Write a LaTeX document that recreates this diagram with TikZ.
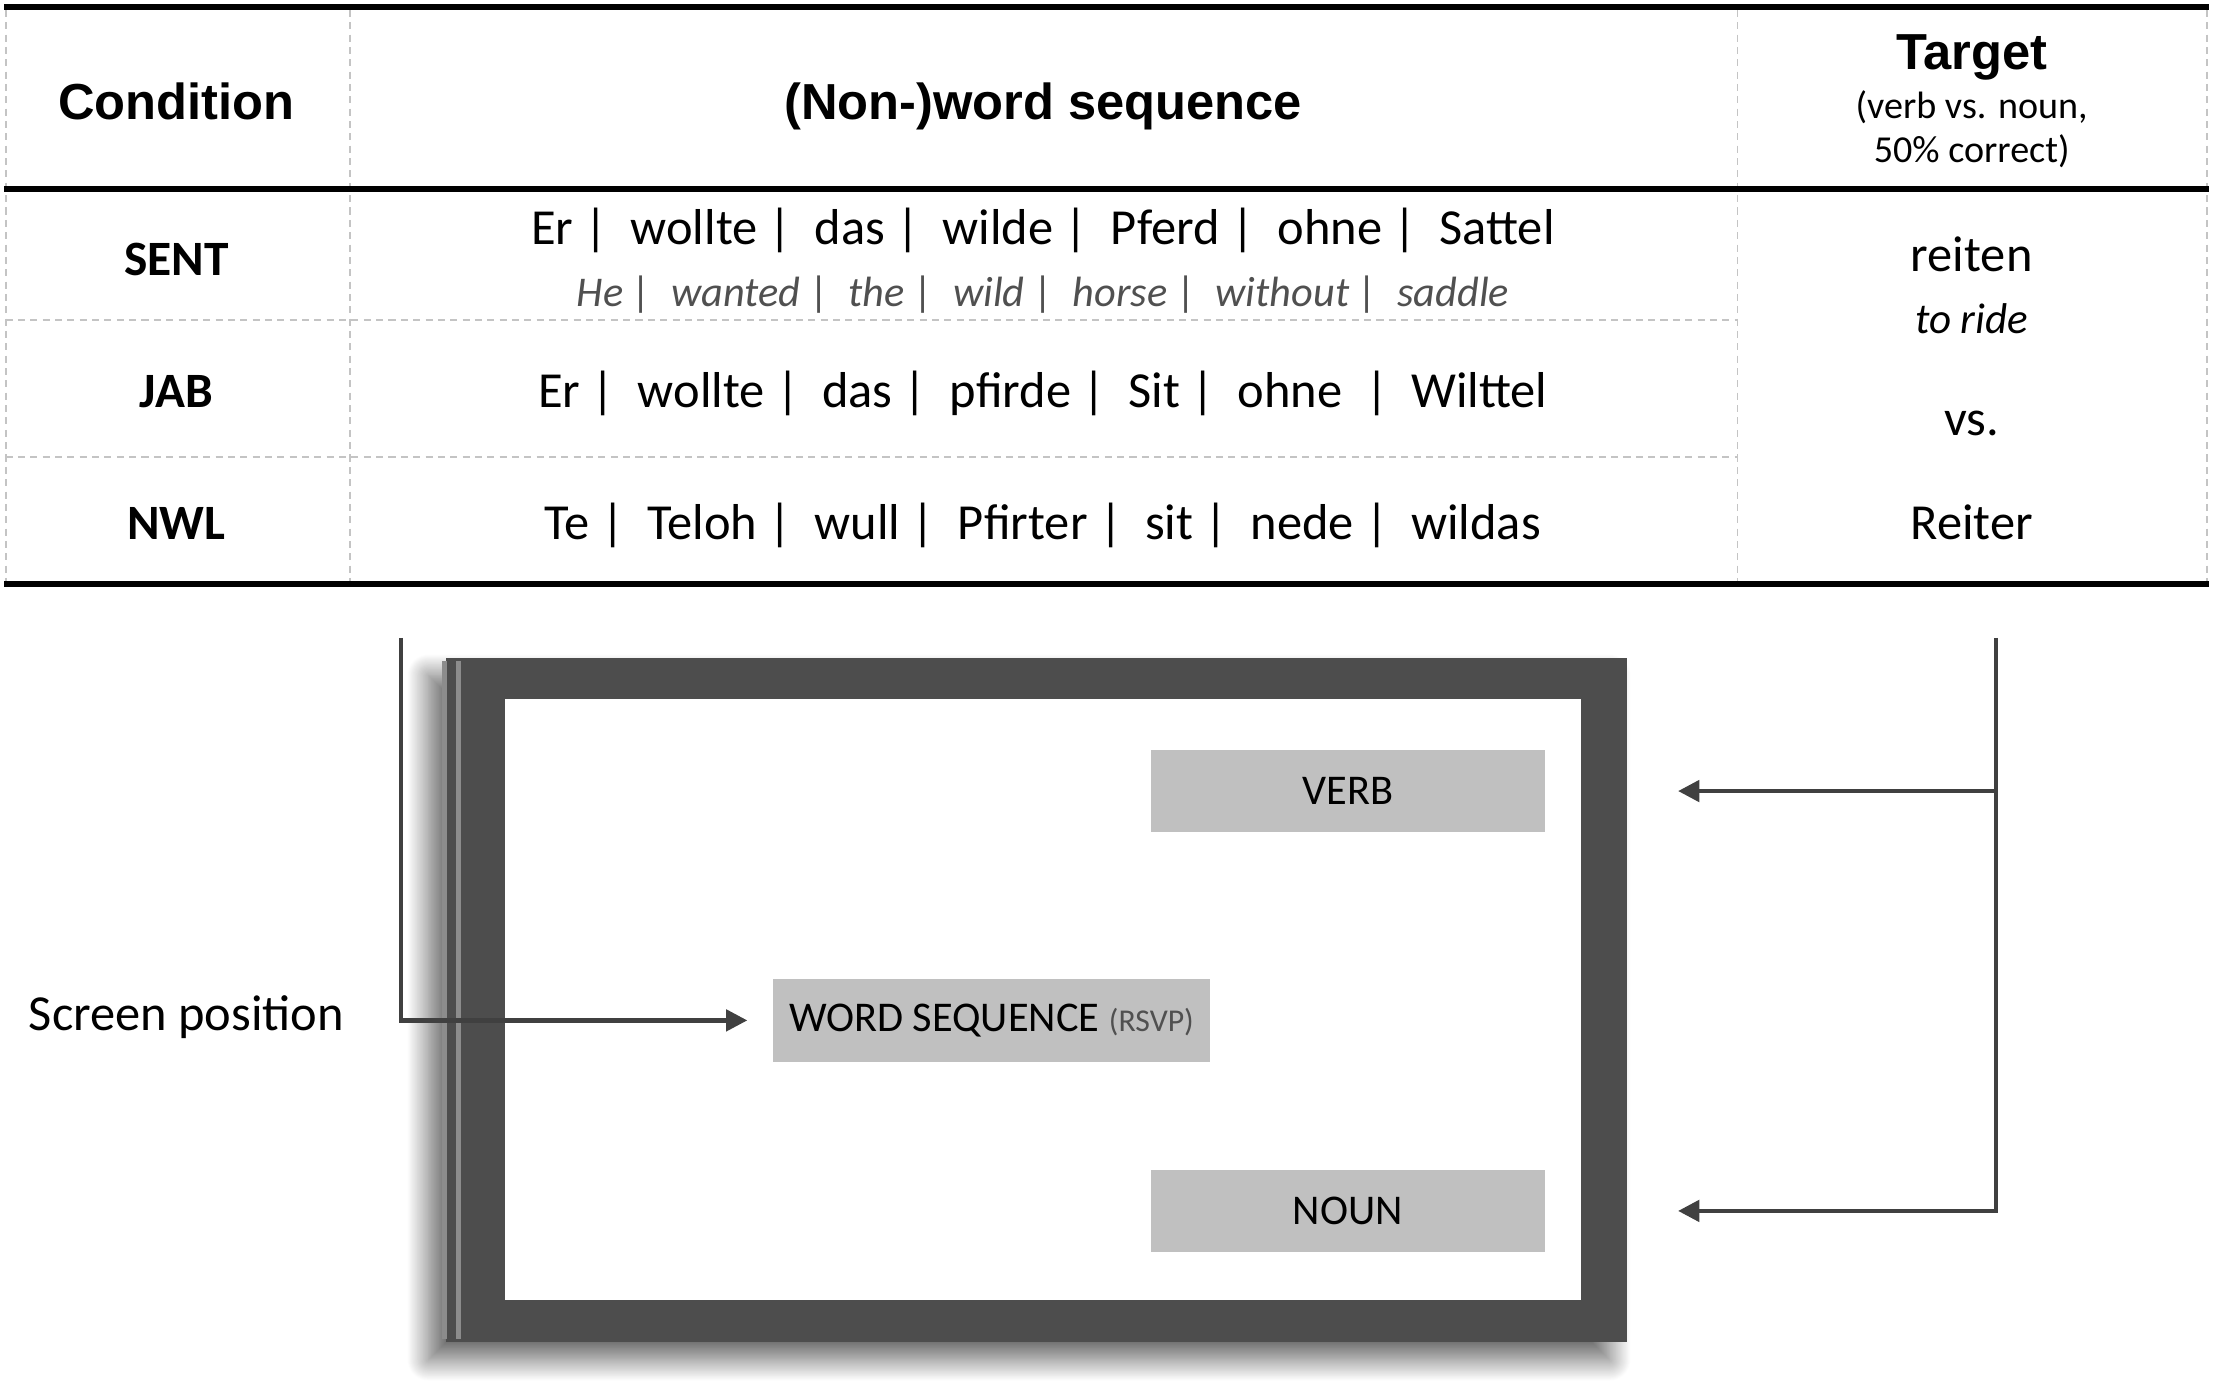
\documentclass[tikz,border=0pt]{standalone}
\usepackage{fontspec}
\setmainfont{Carlito}
\newfontfamily\headfont{Liberation Sans}
\usetikzlibrary{arrows.meta,shadows.blur}

\definecolor{framegray}{HTML}{4D4D4D}
\definecolor{bevelgray}{HTML}{8C8C8C}
\definecolor{boxgray}{HTML}{C0C0C0}
\definecolor{linegray}{HTML}{404040}
\definecolor{gridgray}{HTML}{C4C4C4}
\definecolor{transgray}{HTML}{505050}

\newcommand{\wbar}{~|~~}

\begin{document}
\begin{tikzpicture}[x=0.4pt,y=-0.4pt,
    rule/.style={line width=1.8pt},
    grid/.style={gridgray, line width=0.5pt, dash pattern=on 2pt off 1.5pt},
    head/.style={anchor=base, inner sep=0pt, font=\headfont\bfseries\fontsize{14.35}{17}\selectfont},
    cell/.style={anchor=base, inner sep=0pt, font=\fontsize{14.3}{17}\selectfont},
    cond/.style={cell, font=\bfseries\fontsize{14}{17}\selectfont},
    trans/.style={cell, text=transgray, font=\itshape\fontsize{12}{14}\selectfont},
    item/.style={fill=boxgray, inner sep=0pt, minimum height=23.4pt, font=\fontsize{12}{14}\selectfont},
    conn/.style={linegray, line width=1.2pt, -{Triangle[length=6pt,width=6pt]}}]
\useasboundingbox (0,0) rectangle (1568,983.5);

% table grid
\foreach \x in {4,248,1231,1564}
    \draw[grid] (\x,7) -- (\x,412);
\foreach \y in {227,324}
    \draw[grid] (4,\y) -- (1231,\y);
\draw[rule] (3,5) -- (1565,5);
\draw[rule] (3,134) -- (1565,134);
\draw[rule] (3,414) -- (1565,414);

% header
\node[head] (hcond) at (125,85) {Condition};
\node[head] (hseq) at (739,85) {(Non-)word sequence};
\node[head] (htarget) at (1397,49.5) {Target};
\node[cell, font=\fontsize{10.8}{12.4}\selectfont, align=center] (hnote) at (1397,115) {(verb vs. noun,\\50\% correct)};

% conditions
\node[cond] (sent) at (125,195) {SENT};
\node[cond] (jab) at (125,289) {JAB};
\node[cond] (nwl) at (125,382) {NWL};

% sequences
\node[cell] (seqsent) at (739,173) {Er\wbar wollte\wbar das\wbar wilde\wbar Pferd\wbar ohne\wbar Sattel};
\node[trans] (seqtrans) at (739,217.5) {He\wbar wanted\wbar the\wbar wild\wbar horse\wbar without\wbar saddle};
\node[cell] (seqjab) at (739,289) {Er\wbar wollte\wbar das\wbar pfirde\wbar Sit\wbar ohne~~|~~Wilttel};
\node[cell] (seqnwl) at (739,382) {Te\wbar Teloh\wbar wull\wbar Pfirter\wbar sit\wbar nede\wbar wildas};

% targets
\node[cell] (verbword) at (1397,192.5) {reiten};
\node[cell, font=\itshape\fontsize{12.2}{15}\selectfont] (verbtrans) at (1397,236.5) {to ride};
\node[cell] (vs) at (1397,308.5) {vs.};
\node[cell] (nounword) at (1397,382) {Reiter};

% screen
\fill[framegray, blur shadow={shadow xshift=-5pt, shadow yshift=-5pt, shadow blur radius=6pt, shadow blur steps=30, shadow opacity=60}]
    (316,466) rectangle (1153,951);
\fill[white] (358,495) rectangle (1120,921);
\draw[bevelgray, line width=1.4pt] (315,468) -- (315,949);
\draw[bevelgray, line width=1.4pt] (325,468) -- (325,949);

\node[item, minimum width=111.6pt] (verb) at (955,560.5) {VERB};
\node[item, minimum width=123.6pt] (seq) at (702.5,723) {WORD SEQUENCE {\fontsize{9}{11}\selectfont\color{transgray}(RSVP)}};
\node[item, minimum width=111.6pt] (noun) at (955,858) {NOUN};

\node[cell, anchor=base west] (pos) at (20,730.5) {Screen position};

% connectors
\coordinate (ltop) at (284,452);
\coordinate (rtop) at (1414,452);
\draw[conn, shorten >=7.2pt] (ltop) |- (seq.west);
\draw[conn, shorten >=37.6pt] (rtop |- verb.east) -- (verb.east);
\draw[conn, shorten >=37.6pt] (rtop) |- (noun.east);
\end{tikzpicture}
\end{document}
